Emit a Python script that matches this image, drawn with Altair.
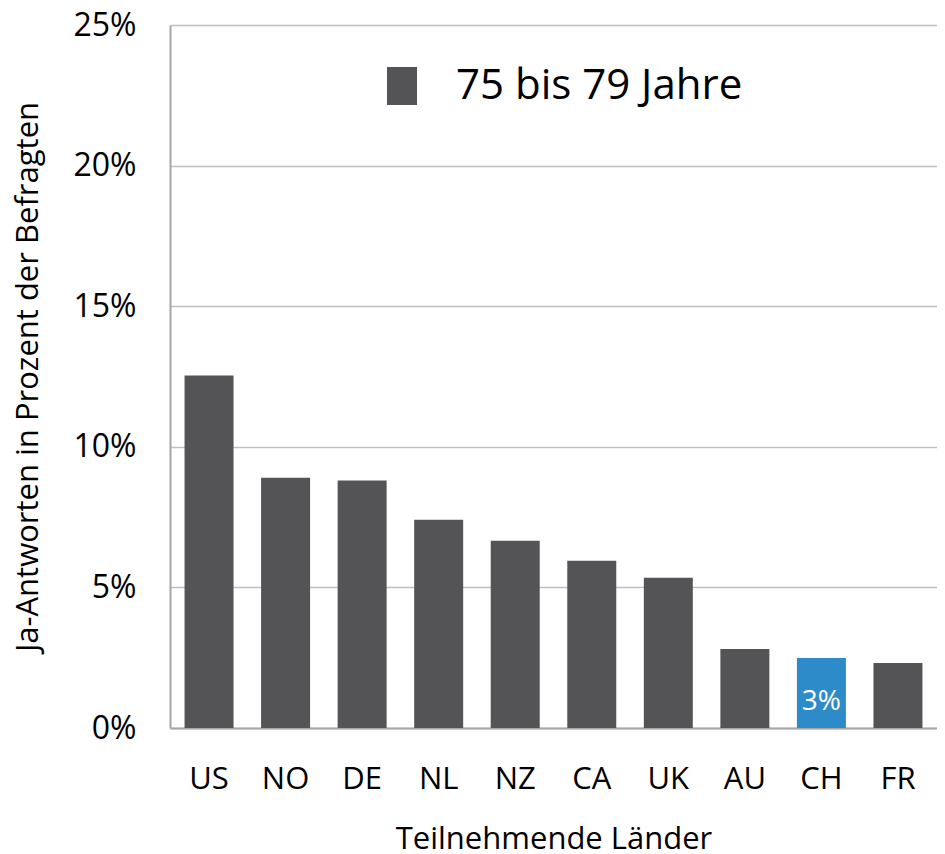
import altair as alt
import pandas as pd

countries = ["US", "NO", "DE", "NL", "NZ", "CA", "UK", "AU", "CH", "FR"]
values = [0.1254, 0.0890, 0.0880, 0.0741, 0.0666, 0.0595, 0.0534, 0.0281, 0.0249, 0.0231]
series = "75 bis 79 Jahre"
highlight = "CH"
highlight_label = "3%"

df = pd.DataFrame({"Land": countries, "Wert": values, "Serie": [series] * len(countries)})
df["label"] = [highlight_label if c == highlight else "" for c in countries]

FONT = "Open Sans"
GRAY = "#545457"
BLUE = "#2E8BC9"

base = alt.Chart(df)

bars = base.mark_bar().encode(
    x=alt.X("Land:N", sort=countries,
            scale=alt.Scale(paddingInner=0.36, paddingOuter=0.19),
            axis=alt.Axis(title="Teilnehmende Länder", labelAngle=0, labelFontSize=31,
                          labelFont=FONT, labelColor="#000", labelPadding=36, tickSize=0,
                          titleFontSize=31, titleFont=FONT, titleFontWeight="normal",
                          titleColor="#000", titlePadding=30,
                          domainColor="#A6A6A6", domainWidth=2)),
    y=alt.Y("Wert:Q", scale=alt.Scale(domain=[0, 0.25]),
            axis=alt.Axis(title="Ja-Antworten in Prozent der Befragten", format=".0%",
                          values=[0, 0.05, 0.10, 0.15, 0.20, 0.25],
                          labelFontSize=32, labelFont=FONT, labelColor="#000",
                          labelPadding=34, tickSize=0,
                          titleFontSize=31, titleFont=FONT, titleFontWeight="normal",
                          titleColor="#000", titlePadding=28,
                          domainColor="#A6A6A6", domainWidth=2,
                          gridColor="#BFBFBF", gridWidth=1.5)),
    color=alt.condition(
        alt.datum.Land == highlight,
        alt.value(BLUE),
        alt.Color("Serie:N", scale=alt.Scale(range=[GRAY]),
                  legend=alt.Legend(title=None, orient="none", legendX=211, legendY=40,
                                    symbolType="M-0.79,-1H0.79V1H-0.79Z", symbolSize=1444,
                                    symbolStrokeWidth=0, symbolOpacity=1,
                                    labelFontSize=42, labelFont=FONT, labelColor="#000",
                                    labelOffset=33, labelLimit=0, padding=0))
    ),
)

labels = base.mark_text(color="white", fontSize=28, font=FONT, baseline="middle").encode(
    x=alt.X("Land:N", sort=countries),
    y=alt.value(677),
    text="label:N",
)

chart = alt.layer(bars, labels).properties(
    width=767, height=703,
    autosize=alt.AutoSizeParams(type="none"),
    padding={"left": 162, "top": 17, "right": 0, "bottom": 125},
).configure_view(stroke=None).configure_axis(grid=True).configure_axisX(grid=False)

chart.save("out.html", embed_options={"renderer": "svg", "actions": False})
